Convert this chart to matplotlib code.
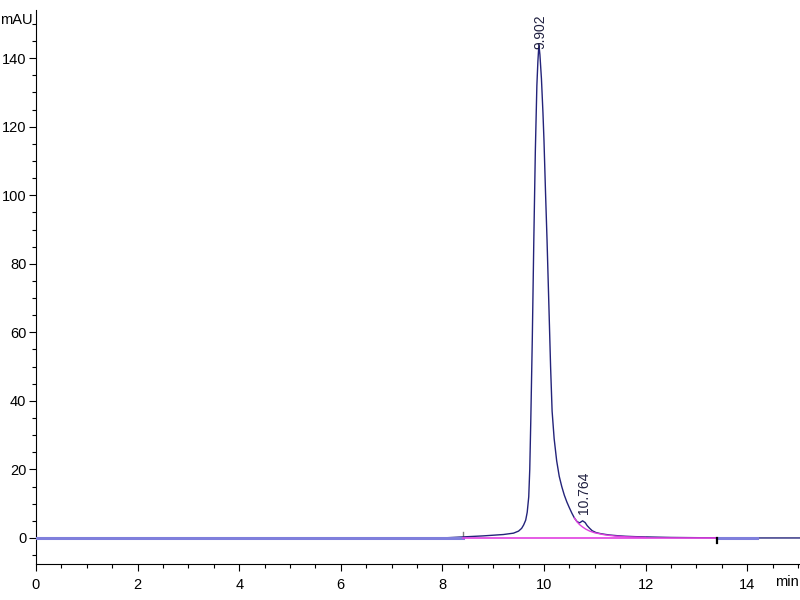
import numpy as np
import matplotlib.pyplot as plt
from matplotlib.ticker import MultipleLocator

plt.rcParams['font.family'] = ['Liberation Sans Narrow', 'Liberation Sans', 'DejaVu Sans']

# Chromatogram trace (time [min], signal [mAU])
time = [0.0, 2.0, 4.0, 6.0, 8.0, 8.4, 8.8, 9.2, 9.40, 9.50, 9.56, 9.60,
        9.64, 9.67, 9.70, 9.72, 9.74, 9.77, 9.80, 9.83, 9.86, 9.88, 9.90,
        9.92, 9.95, 9.98, 10.00, 10.03, 10.06, 10.10, 10.13, 10.16, 10.20,
        10.25, 10.30, 10.35, 10.40, 10.45, 10.50, 10.55, 10.60, 10.65,
        10.70, 10.76, 10.81, 10.85, 10.90, 10.95, 11.02, 11.10, 11.20,
        11.30, 11.45, 11.60, 11.80, 12.00, 12.50, 13.00, 13.40, 14.20, 15.04]
signal = [0.0, 0.0, 0.0, 0.0, 0.0, 0.3, 0.6, 1.0, 1.4, 2.0, 2.8, 3.8,
          5.2, 7.5, 12.0, 20.0, 34.0, 58.0, 87.0, 113.0, 132.0, 139.0, 144.0,
          141.0, 134.0, 124.0, 116.0, 101.0, 87.0, 66.0, 50.0, 37.0, 29.0,
          22.5, 18.0, 15.0, 12.5, 10.5, 8.8, 7.2, 5.8, 4.8,
          4.4, 5.0, 4.5, 3.6, 2.8, 2.1, 1.6, 1.3, 1.05,
          0.85, 0.65, 0.5, 0.38, 0.3, 0.15, 0.08, 0.05, 0.0, 0.0]

# tail of main peak drawn under the small peak
split_t = [10.60, 10.65, 10.70, 10.76, 10.82, 10.90, 11.00, 11.20, 11.40,
           11.60, 12.00]
split_y = [5.8, 4.7, 3.9, 3.2, 2.6, 2.0, 1.5, 0.9, 0.55, 0.35, 0.15]

# integration baseline
base_t = [8.4, 13.4]
base_y = [0.0, 0.0]

# stretches where the second (light) trace shows
light_t = [[0.0, 8.4], [13.4, 14.2]]

peaks = [9.902, 10.764]
peak_heights = [143.0, 5.0]
peak_labels = ["9.902", "10.764"]

fig = plt.figure(figsize=(8, 6), dpi=100)
ax = fig.add_axes([0.045, 0.06, 0.955, 0.923])

navy = "#23237a"
light = "#7f7fdc"
magenta = "#e040e0"

ax.plot(time, signal, color=navy, lw=1.0, zorder=3)
for seg in light_t:
    ax.plot(seg, [0, 0], color=light, lw=2.2, zorder=4)
ax.plot(split_t, split_y, color=magenta, lw=1.0, zorder=4)
ax.plot(base_t, base_y, color=magenta, lw=1.2, zorder=4)

# small event marks
ax.plot([8.4, 8.4], [0.3, 1.6], color="#808080", lw=1.0)
ax.plot([13.4, 13.4], [0.0, -1.6], color="black", lw=1.6, zorder=5)

offsets = [-1, 5]
for t, h, lab, off in zip(peaks, peak_heights, peak_labels, offsets):
    ax.annotate(lab, (t, h), xytext=(1, off), textcoords="offset points",
                rotation=90, ha="center", va="bottom", fontsize=10,
                color="#202040")

ax.set_xlim(0, 15.04)
ax.set_ylim(-7.6, 154)
ax.spines["top"].set_visible(False)
ax.spines["right"].set_visible(False)
ax.xaxis.set_major_locator(MultipleLocator(2))
ax.xaxis.set_minor_locator(MultipleLocator(0.5))
ax.yaxis.set_major_locator(MultipleLocator(20))
ax.yaxis.set_minor_locator(MultipleLocator(5))
ax.tick_params(which="major", length=5, width=0.8, labelsize=10.5)
ax.tick_params(axis="x", which="major", pad=5)
ax.tick_params(axis="y", which="major", pad=2)
ax.tick_params(which="minor", length=3, width=0.8)

fig.text(0.0, 0.967, "mAU", fontsize=10.5, ha="left", va="center")
fig.text(0.999, 0.03, "min", fontsize=10.5, ha="right", va="center")

fig.savefig("out.png", dpi=100)
